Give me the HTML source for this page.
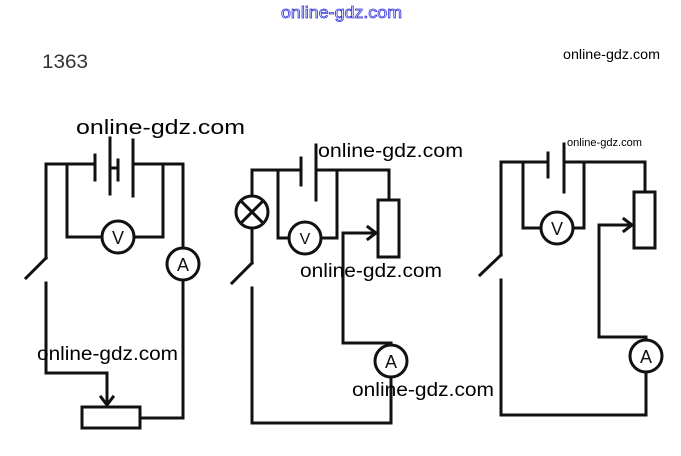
<!DOCTYPE html>
<html><head><style>body{margin:0;background:#fff}svg{display:block}</style></head>
<body>
<svg width="681" height="456" xmlns="http://www.w3.org/2000/svg" font-family="Liberation Sans, sans-serif">
<g stroke="#111" stroke-width="3" fill="none" stroke-linecap="square">
<!-- Circuit 1 -->
<polyline points="46,258 46,164 95,164"/>
<line x1="95" y1="155" x2="95" y2="180"/>
<line x1="110" y1="138" x2="110" y2="194"/>
<line x1="110" y1="168" x2="118" y2="168"/>
<line x1="118" y1="160" x2="118" y2="180"/>
<line x1="133" y1="140" x2="133" y2="196"/>
<polyline points="133,164 183,164 183,248"/>
<polyline points="67,164 67,237 102,237"/>
<polyline points="134,237 163,237 163,164"/>
<circle cx="118" cy="237" r="16"/>
<circle cx="183" cy="264" r="16"/>
<polyline points="183,280 183,418 140,418"/>
<rect x="82" y="407" width="58" height="21"/>
<line x1="46" y1="258" x2="26" y2="278"/>
<polyline points="46,283 46,373 107,373 107,405"/>
<polyline points="101,397 107,405 113,397"/>
<!-- Circuit 2 -->
<polyline points="252,196 252,170 301,170"/>
<line x1="301" y1="158" x2="301" y2="185"/>
<line x1="316" y1="145" x2="316" y2="200"/>
<polyline points="316,170 389,170 389,200"/>
<rect x="378" y="200" width="21" height="57"/>
<polyline points="278,170 278,238 289,238"/>
<polyline points="321,238 337,238 337,170"/>
<circle cx="305" cy="238" r="16"/>
<circle cx="252" cy="212" r="16"/>
<line x1="241" y1="201" x2="263" y2="223"/>
<line x1="263" y1="201" x2="241" y2="223"/>
<line x1="252" y1="228" x2="252" y2="263"/>
<line x1="252" y1="263" x2="232" y2="283"/>
<polyline points="252,288 252,423 391,423 391,377"/>
<circle cx="391" cy="361" r="16"/>
<polyline points="391,345 391,343 343,343 343,233 376,233"/>
<polyline points="368,227 376,233 368,239"/>
<!-- Circuit 3 -->
<polyline points="501,255 501,162 548,162"/>
<line x1="548" y1="153" x2="548" y2="177"/>
<line x1="564" y1="144" x2="564" y2="192"/>
<polyline points="564,162 645,162 645,192"/>
<rect x="634" y="192" width="21" height="56"/>
<polyline points="523,162 523,228 541,228"/>
<polyline points="573,228 584,228 584,162"/>
<circle cx="557" cy="228" r="16"/>
<line x1="501" y1="255" x2="480" y2="275"/>
<polyline points="501,280 501,415 646,415 646,372"/>
<circle cx="646" cy="356" r="16"/>
<polyline points="646,340 646,337 599,337 599,225 632,225"/>
<polyline points="624,219 632,225 624,231"/>
</g>
<g font-family="Liberation Sans, sans-serif" fill="#111">
<text x="118" y="244" font-size="18" text-anchor="middle">V</text>
<text x="183" y="271" font-size="18" text-anchor="middle">A</text>
<text x="305" y="244" font-size="16" text-anchor="middle">V</text>
<text x="391" y="368" font-size="18" text-anchor="middle">A</text>
<text x="557" y="235" font-size="18" text-anchor="middle">V</text>
<text x="646" y="363" font-size="18" text-anchor="middle">A</text>
</g>
<text x="281" y="18" font-size="17" fill="#fff" stroke="#3333dd" stroke-width="0.8" textLength="121" lengthAdjust="spacingAndGlyphs">online-gdz.com</text>
<text x="42" y="68" font-size="19" fill="#333" textLength="46" lengthAdjust="spacingAndGlyphs">1363</text>
<g fill="#000">
<text x="563" y="59" font-size="14" textLength="97" lengthAdjust="spacingAndGlyphs">online-gdz.com</text>
<text x="567" y="146" font-size="11" textLength="75" lengthAdjust="spacingAndGlyphs">online-gdz.com</text>
<text x="76" y="134" font-size="20" textLength="169" lengthAdjust="spacingAndGlyphs">online-gdz.com</text>
<text x="318" y="157" font-size="19" textLength="145" lengthAdjust="spacingAndGlyphs">online-gdz.com</text>
<text x="300" y="277" font-size="19" textLength="142" lengthAdjust="spacingAndGlyphs">online-gdz.com</text>
<text x="37" y="360" font-size="19" textLength="141" lengthAdjust="spacingAndGlyphs">online-gdz.com</text>
<text x="352" y="396" font-size="19" textLength="142" lengthAdjust="spacingAndGlyphs">online-gdz.com</text>
</g>
</svg>
</body></html>
